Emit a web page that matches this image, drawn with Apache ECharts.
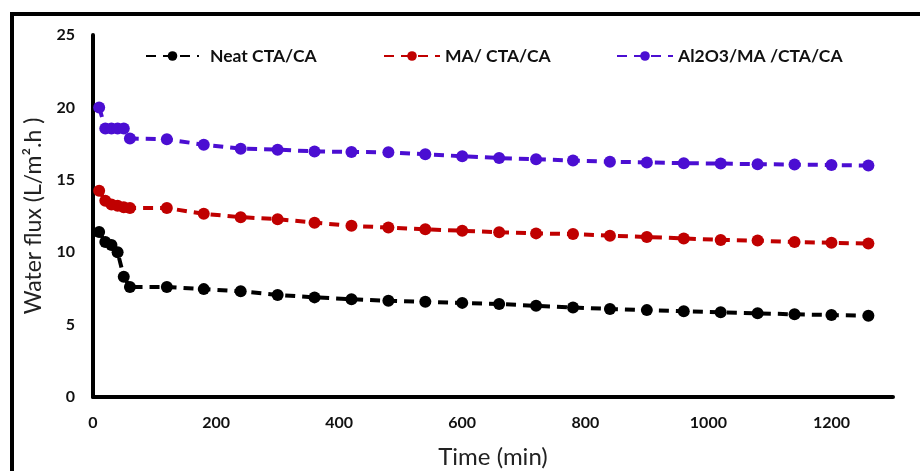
<!DOCTYPE html>
<html>
<head>
<meta charset="utf-8">
<script src="https://cdn.jsdelivr.net/npm/echarts@6/dist/echarts.min.js"></script>
<style>html,body{margin:0;padding:0;background:#fff;}#chart{width:920px;height:471px;}</style>
</head>
<body>
<div id="chart"></div>
<script>
var times = [10, 20, 30, 40, 50, 60, 120, 180, 240, 300, 360, 420, 480, 540, 600, 660, 720, 780, 840, 900, 960, 1020, 1080, 1140, 1200, 1260];
var neat = [11.4, 10.7, 10.5, 10.0, 8.3, 7.6, 7.6, 7.45, 7.3, 7.05, 6.88, 6.75, 6.65, 6.57, 6.5, 6.42, 6.3, 6.18, 6.08, 6.0, 5.92, 5.85, 5.78, 5.71, 5.66, 5.61];
var ma = [14.25, 13.55, 13.3, 13.2, 13.1, 13.05, 13.05, 12.65, 12.42, 12.28, 12.04, 11.82, 11.7, 11.58, 11.48, 11.38, 11.3, 11.25, 11.14, 11.05, 10.95, 10.85, 10.8, 10.7, 10.65, 10.6];
var al = [20.0, 18.55, 18.55, 18.55, 18.55, 17.85, 17.8, 17.42, 17.15, 17.08, 16.96, 16.92, 16.9, 16.76, 16.63, 16.5, 16.42, 16.33, 16.25, 16.2, 16.15, 16.12, 16.08, 16.05, 16.02, 15.98];
var seriesNames = ['Neat CTA/CA', 'MA/ CTA/CA', 'Al2O3/MA /CTA/CA'];
var colors = ['#000000', '#C00000', '#4B0ED2'];
var xTicks = [0, 200, 400, 600, 800, 1000, 1200];
var yTicks = [0, 5, 10, 15, 20, 25];

function pairs(vals) { return times.map(function (t, i) { return [t, vals[i]]; }); }
var allVals = [neat, ma, al];
var FONT = 'Lato, "Open Sans", sans-serif';

var legendLayout = [
  { left: 140, itemWidth: 53, pad: 6 },
  { left: 378, itemWidth: 56, pad: 0 },
  { left: 611, itemWidth: 56, pad: 0 }
];

var chart = echarts.init(document.getElementById('chart'));
chart.setOption({
  backgroundColor: '#fff',
  animation: false,
  grid: { left: 93, right: 27, top: 35, bottom: 74, outerBoundsMode: 'none' },
  legend: seriesNames.map(function (n, i) {
    return {
      top: 42, left: legendLayout[i].left,
      itemWidth: legendLayout[i].itemWidth, itemHeight: 12,
      textStyle: { fontFamily: FONT, fontWeight: 'bold', fontSize: 17.5, color: '#111', padding: [0, 0, 0, legendLayout[i].pad] },
      data: [n]
    };
  }),
  xAxis: {
    type: 'value', min: 0, max: 1300, interval: 200,
    name: 'Time (min)', nameLocation: 'middle', nameGap: 48,
    nameTextStyle: { fontFamily: FONT, fontSize: 24, color: '#222' },
    axisLine: { show: true, lineStyle: { color: '#000', width: 4 } },
    axisTick: { show: false },
    splitLine: { show: false },
    axisLabel: { margin: 18, showMaxLabel: false, fontFamily: FONT, fontWeight: 'bold', fontSize: 16, color: '#111',
      formatter: function (v) { return xTicks.indexOf(v) >= 0 ? String(v) : ''; } }
  },
  yAxis: {
    type: 'value', min: 0, max: 25, interval: 5,
    name: 'Water flux (L/m\u00B2.h )', nameLocation: 'middle', nameGap: 47,
    nameTextStyle: { fontFamily: FONT, fontSize: 23, color: '#222' },
    axisLine: { show: true, lineStyle: { color: '#000', width: 4 } },
    axisTick: { show: false },
    splitLine: { show: false },
    axisLabel: { margin: 18, fontFamily: FONT, fontWeight: 'bold', fontSize: 16, color: '#111',
      formatter: function (v) { return yTicks.indexOf(v) >= 0 ? String(v) : ''; } }
  },
  graphic: [
    { type: 'line', shape: { x1: 10, y1: 14, x2: 920, y2: 14 }, style: { stroke: '#000', lineWidth: 4 } },
    { type: 'line', shape: { x1: 12, y1: 12, x2: 12, y2: 471 }, style: { stroke: '#000', lineWidth: 4 } }
  ],
  series: seriesNames.map(function (n, i) {
    return {
      name: n, type: 'line', data: pairs(allVals[i]),
      symbol: 'circle', symbolSize: 12,
      itemStyle: { color: colors[i] },
      lineStyle: { color: colors[i], width: 4, type: [10, 7] }
    };
  })
});
</script>
</body>
</html>
